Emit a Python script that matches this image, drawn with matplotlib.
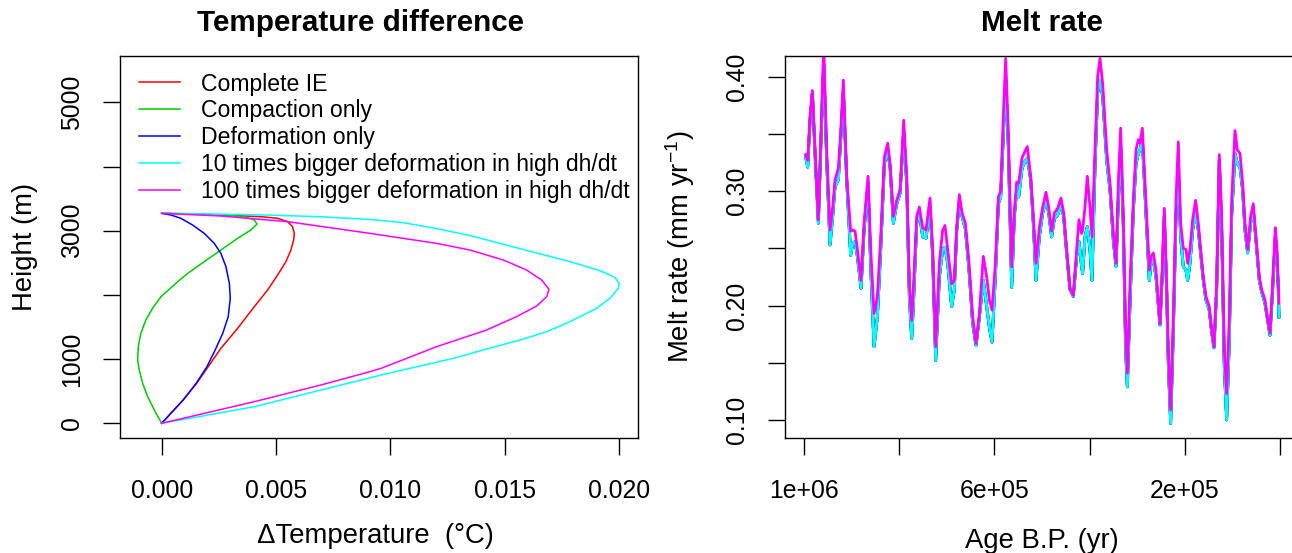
import matplotlib
matplotlib.use("Agg")
import matplotlib.pyplot as plt
from matplotlib.ticker import FixedLocator, FixedFormatter

plt.rcParams['font.family'] = ['Liberation Sans', 'DejaVu Sans']
plt.rcParams['mathtext.fontset'] = 'custom'
plt.rcParams['mathtext.rm'] = 'Liberation Sans'
plt.rcParams['mathtext.it'] = 'Liberation Sans:italic'
plt.rcParams['mathtext.bf'] = 'Liberation Sans:bold'

# ---- Temperature difference profiles (dT in degC, height in m) ----
h_complete = [0, 363, 623, 1168, 1479, 1817, 2076, 2310, 2518, 2699, 2855, 2959, 3063,
              3141, 3193, 3219, 3244, 3260, 3271]
dT_complete = [0, 0.00094, 0.00153, 0.00259, 0.00332, 0.00405, 0.00463, 0.00507, 0.00543,
               0.00565, 0.00577, 0.00580, 0.00572, 0.00551, 0.00507, 0.00434, 0.00259,
               0.00114, 0]

h_compaction = [0, 207, 415, 623, 830, 986, 1194, 1401, 1609, 1791, 1972, 2180, 2336, 2518,
                2699, 2881, 3011, 3104, 3167, 3219, 3250, 3265, 3271]
dT_compaction = [0, -0.00032, -0.00061, -0.00083, -0.00098, -0.00105, -0.00102, -0.00091,
                 -0.00069, -0.00040, -0.00003, 0.00062, 0.00114, 0.00186, 0.00259, 0.00332,
                 0.00390, 0.00417, 0.00405, 0.00361, 0.00259, 0.00114, 0]

h_deform = [0, 363, 623, 882, 1142, 1401, 1661, 1947, 2180, 2440, 2647, 2803, 2959, 3089,
            3193, 3244, 3271]
dT_deform = [0, 0.00094, 0.00151, 0.00198, 0.00234, 0.00267, 0.00291, 0.00300, 0.00296,
             0.00281, 0.00259, 0.00230, 0.00186, 0.00135, 0.00084, 0.00041, 0]

h_10x = [0, 259, 519, 752, 856, 1012, 1157, 1297, 1427, 1583, 1791, 1947, 2103, 2180, 2274,
         2378, 2518, 2680, 2790, 2925, 3035, 3125, 3170, 3218, 3250, 3271]
dT_10x = [0, 0.00405, 0.00696, 0.00959, 0.01085, 0.01275, 0.01420, 0.01566, 0.01683,
          0.01785, 0.01901, 0.01959, 0.01996, 0.02000, 0.01981, 0.01916, 0.01785, 0.01610,
          0.01493, 0.01348, 0.01200, 0.01056, 0.00930, 0.00696, 0.00405, 0]

h_100x = [0, 337, 597, 804, 856, 1194, 1453, 1661, 1827, 1972, 2087, 2232, 2388, 2544,
          2699, 2803, 2881, 2959, 3141, 3229, 3271]
dT_100x = [0, 0.00405, 0.00696, 0.00910, 0.00959, 0.01202, 0.01420, 0.01551, 0.01639,
           0.01683, 0.01693, 0.01661, 0.01595, 0.01493, 0.01348, 0.01202, 0.01056, 0.00910,
           0.00551, 0.00259, 0]

series_names = ["Complete IE", "Compaction only", "Deformation only",
                "10 times bigger deformation in high dh/dt",
                "100 times bigger deformation in high dh/dt"]
series_colors = ["#FF0000", "#00CD00", "#0000FF", "#00FFFF", "#FF00FF"]

# ---- Melt rate (mm/yr) vs age B.P. (yr) ----
age_yr = [996500, 992300, 987400, 982500, 976900, 969900, 964300, 958700, 952400, 945400,
          939800, 934900, 927900, 923000, 917400, 910400, 902000, 897800, 892800, 887900,
          880200, 873900, 865500, 859900, 852900, 845900, 838900, 831200, 824200, 819200,
          812300, 805300, 798200, 790600, 784300, 778700, 773800, 770300, 763300, 757700,
          750700, 743700, 735300, 729700, 723400, 715700, 708700, 703800, 698200, 689800,
          684200, 679300, 673700, 668000, 661000, 653300, 645600, 638600, 631600, 623300,
          616200, 610600, 605000, 598000, 591700, 586800, 581900, 576300, 570700, 563700,
          558100, 553200, 549000, 542000, 535700, 530800, 523800, 518200, 512600, 505600,
          498600, 491600, 486000, 479700, 474100, 467100, 460100, 454500, 448200, 441200,
          434200, 427200, 422300, 416700, 414600, 409700, 404800, 399200, 395000, 388700,
          383100, 378200, 372500, 364100, 357100, 350100, 344500, 339600, 334700, 329100,
          324200, 320700, 315100, 308100, 302500, 297600, 294100, 289200, 283600, 278700,
          274500, 271000, 266100, 260500, 252100, 247200, 243000, 238100, 234600, 229700,
          224100, 218500, 213600, 208700, 203100, 197500, 194000, 189100, 183500, 177200,
          171600, 166700, 161100, 155500, 148500, 143600, 138700, 133000, 127500, 122500,
          116900, 112000, 106400, 101500, 94500, 89600, 84000, 78400, 73500, 67900,
          61600, 56000, 50400, 43400, 38500, 31500, 26600, 21000, 15400, 9800,
          7000, 3500, 2100]

melt_base = [0.330, 0.321, 0.362, 0.386, 0.333, 0.272, 0.345, 0.412, 0.327, 0.253,
             0.278, 0.304, 0.310, 0.345, 0.388, 0.310, 0.244, 0.254, 0.256, 0.243,
             0.215, 0.266, 0.307, 0.234, 0.164, 0.190, 0.249, 0.324, 0.336, 0.321,
             0.272, 0.289, 0.298, 0.353, 0.307, 0.208, 0.171, 0.200, 0.272, 0.281,
             0.260, 0.259, 0.286, 0.243, 0.152, 0.225, 0.249, 0.251, 0.237, 0.199,
             0.214, 0.265, 0.291, 0.278, 0.267, 0.231, 0.184, 0.165, 0.190, 0.222,
             0.199, 0.181, 0.168, 0.225, 0.289, 0.295, 0.342, 0.397, 0.339, 0.216,
             0.278, 0.301, 0.295, 0.320, 0.326, 0.329, 0.310, 0.272, 0.222, 0.260,
             0.281, 0.292, 0.281, 0.260, 0.276, 0.279, 0.289, 0.278, 0.246, 0.214,
             0.208, 0.243, 0.256, 0.234, 0.228, 0.260, 0.269, 0.249, 0.222, 0.321,
             0.386, 0.397, 0.383, 0.327, 0.301, 0.257, 0.234, 0.292, 0.339, 0.269,
             0.161, 0.129, 0.202, 0.283, 0.324, 0.333, 0.336, 0.345, 0.298, 0.257,
             0.222, 0.237, 0.240, 0.225, 0.183, 0.228, 0.278, 0.214, 0.149, 0.097,
             0.176, 0.278, 0.321, 0.260, 0.234, 0.231, 0.222, 0.237, 0.266, 0.281,
             0.266, 0.246, 0.222, 0.205, 0.196, 0.177, 0.163, 0.214, 0.327, 0.266,
             0.146, 0.100, 0.170, 0.278, 0.333, 0.324, 0.321, 0.301, 0.266, 0.246,
             0.272, 0.283, 0.257, 0.222, 0.212, 0.202, 0.189, 0.174, 0.214, 0.260,
             0.249, 0.214, 0.190]

melt_100x = [0.332, 0.327, 0.365, 0.388, 0.336, 0.275, 0.351, 0.428, 0.336, 0.266,
             0.286, 0.310, 0.320, 0.351, 0.397, 0.313, 0.265, 0.266, 0.265, 0.249,
             0.222, 0.272, 0.313, 0.249, 0.193, 0.208, 0.260, 0.330, 0.342, 0.324,
             0.278, 0.292, 0.301, 0.362, 0.313, 0.219, 0.187, 0.215, 0.278, 0.286,
             0.268, 0.266, 0.294, 0.249, 0.164, 0.237, 0.266, 0.270, 0.249, 0.219,
             0.222, 0.268, 0.297, 0.281, 0.272, 0.237, 0.190, 0.167, 0.193, 0.243,
             0.225, 0.205, 0.196, 0.237, 0.295, 0.300, 0.359, 0.416, 0.351, 0.234,
             0.283, 0.308, 0.307, 0.329, 0.335, 0.339, 0.313, 0.278, 0.237, 0.268,
             0.286, 0.299, 0.286, 0.265, 0.281, 0.285, 0.294, 0.281, 0.249, 0.215,
             0.209, 0.249, 0.275, 0.263, 0.266, 0.286, 0.313, 0.286, 0.260, 0.336,
             0.400, 0.416, 0.394, 0.336, 0.307, 0.263, 0.237, 0.307, 0.355, 0.278,
             0.176, 0.141, 0.219, 0.292, 0.336, 0.345, 0.342, 0.355, 0.307, 0.263,
             0.231, 0.243, 0.246, 0.231, 0.184, 0.234, 0.285, 0.219, 0.161, 0.109,
             0.190, 0.292, 0.343, 0.272, 0.250, 0.249, 0.237, 0.249, 0.275, 0.292,
             0.272, 0.249, 0.225, 0.208, 0.199, 0.179, 0.164, 0.219, 0.332, 0.278,
             0.161, 0.123, 0.190, 0.292, 0.353, 0.336, 0.333, 0.307, 0.272, 0.249,
             0.278, 0.289, 0.260, 0.225, 0.214, 0.205, 0.190, 0.176, 0.219, 0.268,
             0.254, 0.219, 0.202]

W, H = 1292, 553
fig = plt.figure(figsize=(W / 100, H / 100), dpi=100)
ax1 = fig.add_axes([120 / W, 1 - 437.7 / H, 518 / W, 382 / H])
ax2 = fig.add_axes([785 / W, 1 - 437.7 / H, 514 / W, 382 / H])

FS = 17.8      # tick labels
FS_LAB = 19.8  # axis labels

# left panel
profiles = [(dT_complete, h_complete), (dT_compaction, h_compaction), (dT_deform, h_deform),
            (dT_10x, h_10x), (dT_100x, h_100x)]
for (dT, hh), name, col in zip(profiles, series_names, series_colors):
    ax1.plot(dT, hh, color=col, lw=1.1, label=name)
ax1.set_xlim(-0.00182, 0.02082)
ax1.set_ylim(-224, 5726)
ax1.xaxis.set_major_locator(FixedLocator([0, 0.005, 0.010, 0.015, 0.020]))
ax1.xaxis.set_major_formatter(FixedFormatter(["0.000", "0.005", "0.010", "0.015", "0.020"]))
ax1.yaxis.set_major_locator(FixedLocator([0, 1000, 2000, 3000, 4000, 5000]))
ax1.yaxis.set_major_formatter(FixedFormatter(["0", "1000", "", "3000", "", "5000"]))
ax1.set_title("Temperature difference", fontsize=21.3, fontweight="bold", pad=17.5, x=0.464)
ax1.set_xlabel("\u0394Temperature  (\u00b0C)", fontsize=FS_LAB, va="center")
ax1.xaxis.set_label_coords(0.493, -0.2574)
ax1.set_ylabel("Height (m)", fontsize=FS_LAB, va="center")
ax1.yaxis.set_label_coords(-0.1834, 0.5)
ax1.legend(loc="upper left", bbox_to_anchor=(0.0367, 0.956), frameon=False, fontsize=16.6,
           handlelength=1.78, handletextpad=0.91, labelspacing=0.17, borderpad=0,
           borderaxespad=0)

# right panel
melt_series = [melt_base, melt_base, melt_base, melt_base, melt_100x]
for vals, col in zip(melt_series, series_colors):
    ax2.plot(age_yr, vals, color=col, lw=2.0, solid_joinstyle="round")
ax2.set_xlim(1.04e6, -0.04e6)
ax2.set_ylim(0.0845, 0.4184)
ax2.xaxis.set_major_locator(FixedLocator([1e6, 8e5, 6e5, 4e5, 2e5, 0]))
ax2.xaxis.set_major_formatter(FixedFormatter(["1e+06", "", "6e+05", "", "2e+05", ""]))
ax2.yaxis.set_major_locator(FixedLocator([0.10, 0.15, 0.20, 0.25, 0.30, 0.35, 0.40]))
ax2.yaxis.set_major_formatter(FixedFormatter(["0.10", "", "0.20", "", "0.30", "", "0.40"]))
ax2.set_title("Melt rate", fontsize=21.3, fontweight="bold", pad=17.5)
ax2.set_xlabel("Age B.P. (yr)", fontsize=FS_LAB, va="center")
ax2.xaxis.set_label_coords(0.5, -0.2705)
ax2.set_ylabel(r"Melt rate (mm yr$^{-1}$)", fontsize=FS_LAB, va="center")
ax2.yaxis.set_label_coords(-0.2043, 0.5)

for ax in (ax1, ax2):
    for sp in ax.spines.values():
        sp.set_linewidth(1.0)
    ax.tick_params(direction="out", length=12, width=1.0, labelsize=FS, pad=17.5)
    ax.tick_params(axis="y", labelrotation=90, pad=14)
    for lab in ax.get_yticklabels():
        lab.set_va("center")

fig.savefig("out.png", dpi=100)
